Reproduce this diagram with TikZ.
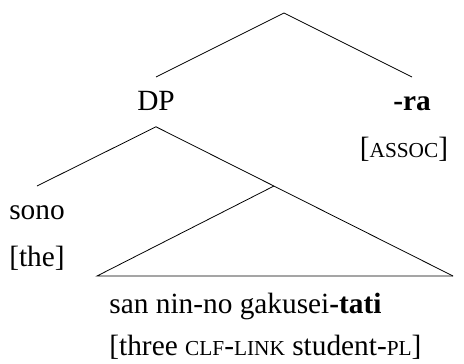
\documentclass[tikz,border=0pt]{standalone}
\usepackage{fontspec}
\setmainfont{Liberation Serif}
\usetikzlibrary{positioning}
\newcommand{\fakesc}[1]{{\fontsize{16pt}{19pt}\selectfont #1}}

\begin{document}
\begin{tikzpicture}[x=0.75pt, y=-0.75pt, line width=0.6pt,
  every node/.style={font=\fontsize{22pt}{26pt}\selectfont, inner xsep=0pt},
  word/.style={anchor=north, text height=15pt, text depth=2.25pt, inner ysep=9.75pt},
  gloss/.style 2 args={below=#1 of #2, anchor=base}]
\useasboundingbox (0,0) rectangle (464,364);
% upper tree
\coordinate (root) at (284,13);
\node[word] (dp) at (156,77) {DP};
\node[word] (ra) at (412,77) {\textbf{-ra}};
\node[gloss={35pt}{ra.base}, xshift=-6pt] (assoc) {[\fakesc{ASSOC}]};
\draw (dp.north) -- (root) -- (ra.north);

% DP and its triangle
\node[word] (sono) at (37,186) {sono};
\node[gloss={35pt}{sono.base}] (the) {[the]};
\coordinate (nbar) at (274,186);
\coordinate (tl) at (97,276);
\coordinate (tr) at (453,276);
\draw (sono.north) -- (dp.south) -- (tr);
\draw (nbar) -- (tl) -- (tr);
\node[anchor=base west] (san) at (109,313) {san nin-no gakusei\textbf{-tati}};
\node[gloss={32pt}{san.base west}, anchor=base west] (three) {[three \fakesc{CLF}-\fakesc{LINK} student-\fakesc{PL}]};
\end{tikzpicture}
\end{document}
